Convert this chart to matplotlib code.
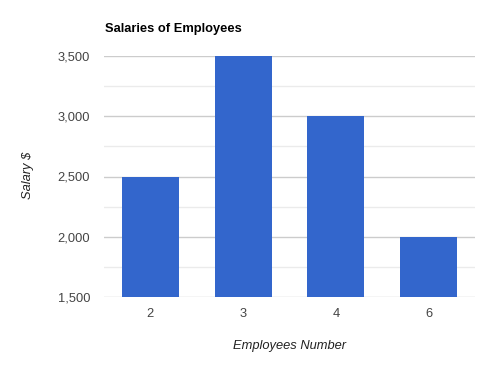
import matplotlib.pyplot as plt
from matplotlib.ticker import FuncFormatter, MultipleLocator

employees = ["2", "3", "4", "6"]
salaries = [2500, 3500, 3000, 2000]
y_ticks = [1500, 2000, 2500, 3000, 3500]

plt.rcParams["font.family"] = ["Liberation Sans", "DejaVu Sans"]

fig = plt.figure(figsize=(4.8, 3.68), dpi=100)
ax = fig.add_axes([104 / 480, 1 - 297 / 368, 371 / 480, 241 / 368])

ax.bar(range(len(employees)), salaries, width=0.615, color="#3366cc", zorder=3)

ax.set_xlim(-0.5, len(employees) - 0.5)
ax.set_ylim(1500, 3500)
ax.set_xticks(range(len(employees)))
ax.set_xticklabels(employees)
ax.set_yticks(y_ticks)
ax.yaxis.set_minor_locator(MultipleLocator(250))
ax.yaxis.set_major_formatter(FuncFormatter(lambda v, p: f"{int(v):,}"))

ax.grid(axis="y", which="major", color="#cccccc", linewidth=1, zorder=0)
ax.grid(axis="y", which="minor", color="#ebebeb", linewidth=1, zorder=0)
for s in ax.spines.values():
    s.set_visible(False)
ax.tick_params(axis="both", which="both", length=0, labelsize=9.3, colors="#444444")
ax.tick_params(axis="y", pad=10)
ax.tick_params(axis="x", pad=8)

ax.set_xlabel("Employees Number", style="italic", fontsize=9.3, color="#222222", labelpad=14)
ax.set_ylabel("Salary $", style="italic", fontsize=9.3, color="#222222")
ax.yaxis.set_label_coords((34 - 104) / 371, (297 - 175) / 241)
fig.text(105 / 480, 1 - 29 / 368, "Salaries of Employees", fontsize=9.3,
         fontweight="bold", color="#000000", va="center", ha="left")

fig.savefig("out.png", dpi=100)
